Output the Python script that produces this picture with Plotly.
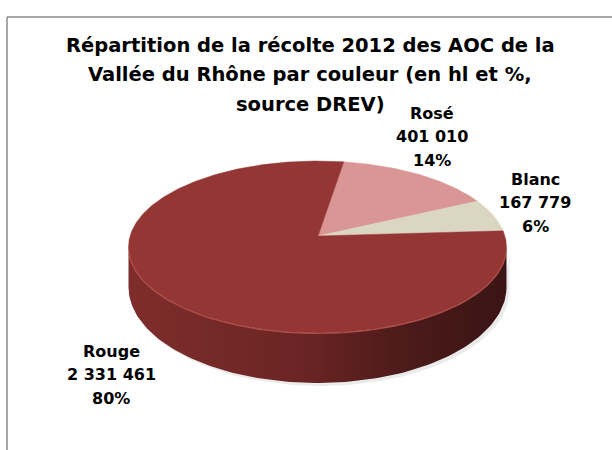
import numpy as np
import plotly.graph_objects as go

# ---- data ----
categories = ["Rosé", "Blanc", "Rouge"]
volumes_hl = [401010, 167779, 2331461]
slice_colors = ["#D99694", "#DAD6BF", "#943634"]
title_lines = ["Répartition de la récolte 2012 des AOC de la",
               "Vallée du Rhône par couleur (en hl et %,",
               "source DREV)"]

# ---- geometry of the (pseudo 3D) pie, in pixel space ----
CX, CY = 317.5, 247.0      # centre of the top ellipse
RX, RY = 189.0, 86.0       # radii of the top ellipse
AX, AY = 318.0, 236.0      # apex (perspective-shifted centre)
START_DEG = 8.0            # first slice starts slightly right of 12 o'clock


def rim(theta_deg):
    t = np.radians(theta_deg)
    return CX + RX * np.sin(t), CY - RY * np.cos(t)


def depth(theta_deg):
    t = np.radians(theta_deg)
    return 40 + 10 * np.clip(-np.cos(t), 0, 1)


total = float(sum(volumes_hl))
fractions = [v / total for v in volumes_hl]

fig = go.Figure()

# soft shadow under the pie
th = np.linspace(90, 270, 120)
sx, sy = rim(th)
sy2 = sy + depth(th) + 3
fig.add_trace(go.Scatter(
    x=np.concatenate([sx + 3, (sx + 3)[::-1]]),
    y=np.concatenate([sy + 6, sy2[::-1]]),
    fill="toself", fillcolor="rgba(0,0,0,0.08)", line=dict(width=0),
    mode="lines", hoverinfo="skip", showlegend=False))

# side wall (front half, visible part belongs to Rouge)
bx, by = rim(th)
bot_y = by + depth(th)
fig.add_trace(go.Scatter(
    x=np.concatenate([bx, bx[::-1]]),
    y=np.concatenate([by, bot_y[::-1]]),
    fill="toself",
    fillgradient=dict(type="horizontal",
                      colorscale=[[0, "#7E2D2C"], [0.45, "#6B2524"],
                                  [0.75, "#4A1A19"], [1, "#3A1414"]]),
    line=dict(width=0), mode="lines", hoverinfo="skip", showlegend=False))

# top slices
angle = START_DEG
for cat, frac, col in zip(categories, fractions, slice_colors):
    a0, a1 = angle, angle + frac * 360.0
    ts = np.linspace(a0, a1, max(int((a1 - a0) * 2), 8))
    px, py = rim(ts)
    fig.add_trace(go.Scatter(
        x=np.concatenate([[AX], px, [AX]]),
        y=np.concatenate([[AY], py, [AY]]),
        fill="toself", fillcolor=col, line=dict(color=col, width=0.5),
        mode="lines", name=cat, hoverinfo="skip", showlegend=False))
    angle = a1

# light highlight along the front rim
hx, hy = rim(np.linspace(95, 265, 120))
fig.add_trace(go.Scatter(x=hx, y=hy + 0.5, mode="lines",
                         line=dict(color="#B04E4B", width=1.2),
                         hoverinfo="skip", showlegend=False))

LABEL_FONT = dict(family="DejaVu Sans", size=16, color="#000000", weight="bold")
TITLE_FONT = dict(family="DejaVu Sans", size=19.5, color="#000000", weight="bold")

# ---- data labels (one annotation per line for precise line spacing) ----
label_pos = {"Rosé": (432, 113), "Blanc": (535, 179), "Rouge": (111, 351)}
for cat, v in zip(categories, volumes_hl):
    pct = round(v / total * 100)
    lines = [cat, f"{v:,}".replace(",", " "), f"{pct}%"]
    x, y0 = label_pos[cat]
    for i, line in enumerate(lines):
        fig.add_annotation(x=x, y=y0 + i * 23.5, xref="x", yref="y",
                           text=line, showarrow=False, align="center",
                           font=LABEL_FONT)

# ---- title ----
for i, line in enumerate(title_lines):
    fig.add_annotation(x=310, y=45 + i * 29.5, xref="x", yref="y",
                       text=line, showarrow=False, align="center",
                       font=TITLE_FONT)

# ---- chart border (left and top edges visible) ----
fig.add_shape(type="line", x0=7, y0=450, x1=7, y1=17, xref="x", yref="y",
              line=dict(color="#8A8A8A", width=1.5))
fig.add_shape(type="line", x0=7, y0=17, x1=612, y1=17, xref="x", yref="y",
              line=dict(color="#8A8A8A", width=1.5))

fig.update_layout(
    width=612, height=450,
    margin=dict(l=0, r=0, t=0, b=0),
    paper_bgcolor="white", plot_bgcolor="white",
    hovermode=False,
    xaxis=dict(range=[0, 612], visible=False, fixedrange=True),
    yaxis=dict(range=[450, 0], visible=False, fixedrange=True),
)

fig.write_html("out.html",
               config={"displayModeBar": False, "staticPlot": True},
               post_script="document.body.style.margin='0';"
                           "document.body.style.overflow='hidden';")
